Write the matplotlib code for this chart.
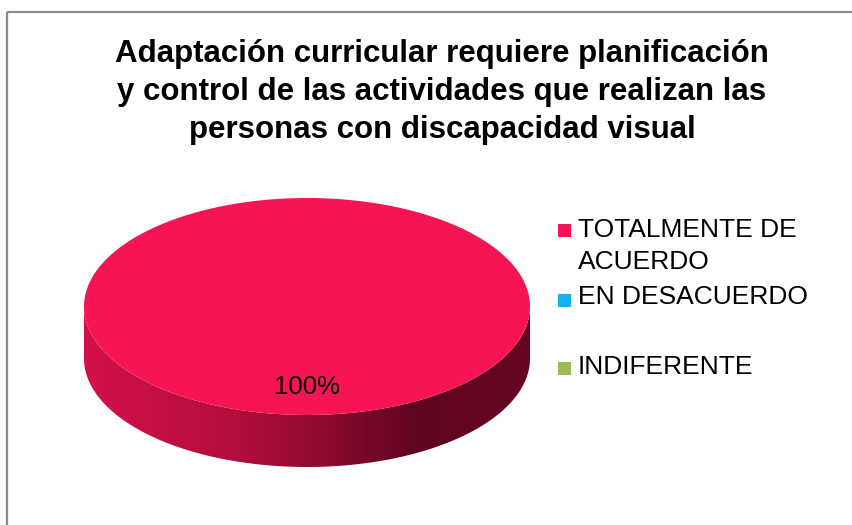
import numpy as np
import matplotlib
matplotlib.use("Agg")
import matplotlib.pyplot as plt
from matplotlib.patches import Polygon, Rectangle
from matplotlib.colors import LinearSegmentedColormap

# ---- data ----
title = "Adaptación curricular requiere planificación\ny control de las actividades que realizan las\npersonas con discapacidad visual"
categories = ["TOTALMENTE DE\nACUERDO", "EN DESACUERDO", "INDIFERENTE"]
values = [100, 0, 0]
colors = ["#F61452", "#12B2F2", "#9BBB59"]
pct_labels = ["100%", "", ""]

plt.rcParams['font.family'] = ['Liberation Sans', 'DejaVu Sans']

W, H = 853, 525
fig = plt.figure(figsize=(W / 100, H / 100), dpi=100)
ax = fig.add_axes([0, 0, 1, 1])
ax.set_xlim(0, W)
ax.set_ylim(H, 0)
ax.axis('off')

# border of the chart area
ax.add_patch(Rectangle((7, 12), W + 20, H + 20, fill=False, ec="#8C8C8C", lw=1.6))

# title
ax.text(442, 92, title, ha='center', va='center', fontsize=22.5, fontweight='bold',
        linespacing=1.34, color='black')

# ---- 3D pie ----
cx, cy, rx, ry, depth = 307, 306.5, 223, 108.5, 52
total = sum(values)
side_cmap = LinearSegmentedColormap.from_list(
    "side",
    [(0.0, (212/255, 17/255, 75/255)),
     (0.35, (178/255, 13/255, 58/255)),
     (0.55, (140/255, 10/255, 46/255)),
     (0.74, (95/255, 5/255, 32/255)),
     (1.0, (102/255, 5/255, 34/255))])

start = 0.0
for v, c, lab in zip(values, colors, pct_labels):
    if v <= 0:
        continue
    frac = v / total
    t = np.linspace(start, start + 2 * np.pi * frac, 400)
    # side (front visible half)
    ts = t[(np.sin(t) >= 0)]
    if len(ts) > 1:
        xs = cx + rx * np.cos(ts)
        ys = cy + ry * np.sin(ts)
        side_pts = np.vstack([np.column_stack([xs, ys]),
                              np.column_stack([xs[::-1], ys[::-1] + depth])])
        side_poly = Polygon(side_pts, closed=True, fc='none', ec='none')
        ax.add_patch(side_poly)
        grad = np.linspace(0, 1, 256).reshape(1, -1)
        im = ax.imshow(grad, cmap=side_cmap, aspect='auto',
                       extent=[cx - rx, cx + rx, cy + ry + depth + 2, cy - 2],
                       zorder=1)
        im.set_clip_path(side_poly)
    # top face
    if frac >= 1.0:
        top_pts = np.column_stack([cx + rx * np.cos(t), cy + ry * np.sin(t)])
    else:
        top_pts = np.vstack([[cx, cy],
                             np.column_stack([cx + rx * np.cos(t), cy + ry * np.sin(t)])])
    ax.add_patch(Polygon(top_pts, closed=True, fc=c, ec='none', zorder=2))
    start += 2 * np.pi * frac

ax.text(307, 387, pct_labels[0], ha='center', va='center', fontsize=18.5, zorder=3)

# ---- legend ----
mark_y = [230.5, 300, 368.5]
text_y = [218, 285, 355]
for cat, c, my, ty in zip(categories, colors, mark_y, text_y):
    ax.add_patch(Rectangle((558, my - 6.5), 13, 13, fc=c, ec='none'))
    ax.text(578, ty, cat, ha='left', va='top', fontsize=19, linespacing=1.4)

fig.savefig("out.png", dpi=100)
